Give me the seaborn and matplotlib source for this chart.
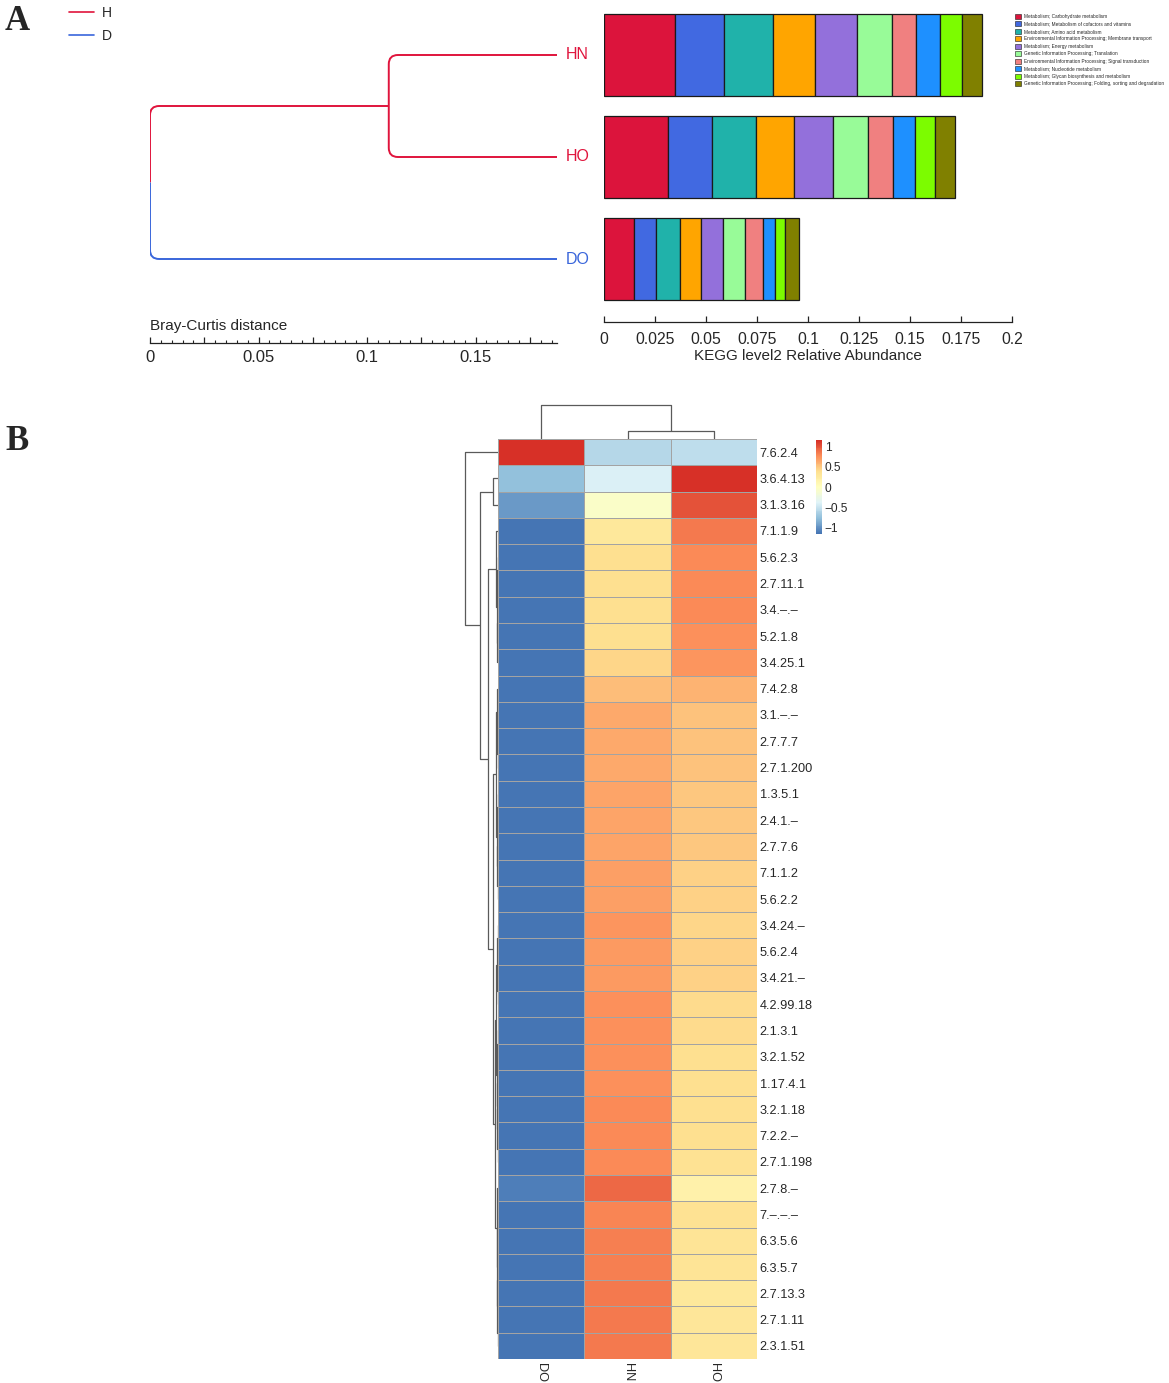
import numpy as np
import pandas as pd
import matplotlib
matplotlib.use("Agg")
import matplotlib.pyplot as plt
import seaborn as sns
from matplotlib.path import Path
from matplotlib.patches import PathPatch, Patch
from matplotlib.lines import Line2D
from matplotlib.colors import LinearSegmentedColormap
from matplotlib.ticker import MultipleLocator

# ---------------- panel A data ----------------
samples = ["HN", "HO", "DO"]
sample_group = ["H", "H", "D"]
group_names = ["H", "D"]
group_colors = {"H": "#E0143C", "D": "#3A66DB"}

# Bray-Curtis cluster heights (measured from the leaves)
hn_ho_height = 0.0775
root_height = 0.1875

pathways = [
    "Metabolism; Carbohydrate metabolism",
    "Metabolism; Metabolism of cofactors and vitamins",
    "Metabolism; Amino acid metabolism",
    "Environmental Information Processing; Membrane transport",
    "Metabolism; Energy metabolism",
    "Genetic Information Processing; Translation",
    "Environmental Information Processing; Signal transduction",
    "Metabolism; Nucleotide metabolism",
    "Metabolism; Glycan biosynthesis and metabolism",
    "Genetic Information Processing; Folding, sorting and degradation",
]
pathway_colors = ["#DC143C", "#4169E1", "#20B2AA", "#FFA500", "#9370DB",
                  "#98FB98", "#F08080", "#1E90FF", "#7CFC00", "#808000"]

abund_hn = [0.0348, 0.0242, 0.0237, 0.0209, 0.0204, 0.0172, 0.0117, 0.0118, 0.0108, 0.0096]
abund_ho = [0.0314, 0.0214, 0.0216, 0.0187, 0.0191, 0.0172, 0.0121, 0.0108, 0.0100, 0.0098]
abund_do = [0.0147, 0.0109, 0.0117, 0.0102, 0.0110, 0.0106, 0.0087, 0.0060, 0.0049, 0.0067]

kegg_ticks = [0, 0.025, 0.05, 0.075, 0.1, 0.125, 0.15, 0.175, 0.2]
kegg_tick_labels = ["0", "0.025", "0.05", "0.075", "0.1", "0.125", "0.15", "0.175", "0.2"]
bc_ticks = [0, 0.025, 0.05, 0.075, 0.1, 0.125, 0.15, 0.175]
bc_tick_labels = ["0", "", "0.05", "", "0.1", "", "0.15", ""]

# ---------------- panel B data ----------------
col_labels = ["DO", "HN", "HO"]
row_labels = ["7.6.2.4", "3.6.4.13", "3.1.3.16", "7.1.1.9", "5.6.2.3", "2.7.11.1",
              "3.4.–.–", "5.2.1.8", "3.4.25.1", "7.4.2.8", "3.1.–.–", "2.7.7.7",
              "2.7.1.200", "1.3.5.1", "2.4.1.–", "2.7.7.6", "7.1.1.2", "5.6.2.2",
              "3.4.24.–", "5.6.2.4", "3.4.21.–", "4.2.99.18", "2.1.3.1", "3.2.1.52",
              "1.17.4.1", "3.2.1.18", "7.2.2.–", "2.7.1.198", "2.7.8.–", "7.–.–.–",
              "6.3.5.6", "6.3.5.7", "2.7.13.3", "2.7.1.11", "2.3.1.51"]
z_do = [1.15, -0.75, -0.95, -1.15, -1.15, -1.15, -1.15, -1.15, -1.15, -1.15,
        -1.15, -1.15, -1.15, -1.15, -1.15, -1.15, -1.15, -1.15, -1.15, -1.15,
        -1.15, -1.15, -1.15, -1.15, -1.15, -1.15, -1.15, -1.14, -1.10, -1.15,
        -1.15, -1.15, -1.15, -1.15, -1.15]
z_hn = [-0.60, -0.40, -0.05, 0.30, 0.37, 0.38, 0.38, 0.39, 0.42, 0.55,
        0.63, 0.64, 0.64, 0.65, 0.66, 0.66, 0.69, 0.69, 0.73, 0.71,
        0.71, 0.74, 0.75, 0.76, 0.76, 0.77, 0.78, 0.78, 0.92, 0.80,
        0.81, 0.81, 0.85, 0.84, 0.84]
z_ho = [-0.55, 1.15, 1.00, 0.85, 0.78, 0.77, 0.77, 0.76, 0.73, 0.60,
        0.52, 0.51, 0.51, 0.50, 0.49, 0.49, 0.46, 0.46, 0.42, 0.44,
        0.44, 0.41, 0.40, 0.39, 0.39, 0.38, 0.37, 0.36, 0.18, 0.35,
        0.34, 0.34, 0.30, 0.31, 0.31]

# cluster trees: (left, right, height), leaves are row / column indices
col_tree = (0, (1, 2, 0.25), 1.0)
row_tree = (0,
            ((1, 2, 0.14),
             ((3, ((4, 5, 0.01), ((6, 7, 0.01), 8, 0.02), 0.03), 0.07),
              (((9, (10, (11, 12, 0.01), 0.02), 0.03),
                ((13, 14, 0.01), (15, (16, 17, 0.01), 0.02), 0.03), 0.07),
               ((((18, 19, 0.01), (20, 21, 0.01), 0.02),
                 ((22, 23, 0.01), (24, (25, (26, 27, 0.01), 0.02), 0.03), 0.04), 0.05),
                (28, ((29, 30, 0.01), ((31, 32, 0.01), (33, 34, 0.01), 0.02), 0.03), 0.04),
                0.09), 0.15), 0.30), 0.55),
            1.0)

heat_colors = ["#4575B4", "#91BFDB", "#E0F3F8", "#FFFFBF", "#FEE090", "#FC8D59", "#D73027"]
zlim = 1.155

# ---------------- figure ----------------
sns.set_style("white")
plt.rcParams["font.family"] = ["Liberation Sans", "DejaVu Sans"]

W, H = 1169, 1383
fig = plt.figure(figsize=(W / 100, H / 100), dpi=100)


def box(x0, y0, x1, y1):
    return [x0 / W, 1 - y1 / H, (x1 - x0) / W, (y1 - y0) / H]


def branch(ax, xn, y0, xc, yc, color, rx=0.0042, ry=0.09):
    s = 1 if yc > y0 else -1
    verts = [(xn, y0), (xn, yc - s * ry), (xn, yc), (xn + rx, yc), (xc, yc)]
    codes = [Path.MOVETO, Path.LINETO, Path.CURVE3, Path.CURVE3, Path.LINETO]
    ax.add_patch(PathPatch(Path(verts, codes), fill=False, edgecolor=color,
                           lw=1.4, capstyle="butt"))


# --- A: dendrogram ---
ax_d = fig.add_axes(box(150, 4, 557, 310))
ax_d.set_xlim(0, root_height)
ax_d.set_ylim(2.5, -0.5)
x_leaf = root_height
x_node = root_height - hn_ho_height
x_root = 0.0
pos = {s: i for i, s in enumerate(samples)}
y_node = (pos["HN"] + pos["HO"]) / 2
y_root = (y_node + pos["DO"]) / 2
red, blue = group_colors["H"], group_colors["D"]
branch(ax_d, x_node, y_node, x_leaf, pos["HN"], red)
branch(ax_d, x_node, y_node, x_leaf, pos["HO"], red)
branch(ax_d, x_root, y_root, x_node, y_node, red)
branch(ax_d, x_root, y_root, x_leaf, pos["DO"], blue)
for s, g in zip(samples, sample_group):
    ax_d.annotate(s, (x_leaf, pos[s]), xytext=(6.5, 0), textcoords="offset points",
                  va="center", ha="left", fontsize=11.5, color=group_colors[g],
                  annotation_clip=False)
for sp in ["top", "right", "left"]:
    ax_d.spines[sp].set_visible(False)
ax_d.spines["bottom"].set_position(("outward", 24))
ax_d.spines["bottom"].set_linewidth(0.9)
ax_d.spines["bottom"].set_color("#222222")
ax_d.set_yticks([])
ax_d.set_xticks(bc_ticks)
ax_d.set_xticklabels(bc_tick_labels)
ax_d.xaxis.set_minor_locator(MultipleLocator(0.005))
ax_d.tick_params(axis="x", which="major", bottom=True, direction="in", length=4.2,
                 width=0.9, labelsize=12, pad=4.5, color="#222222")
ax_d.tick_params(axis="x", which="minor", bottom=True, direction="in", length=2.4,
                 width=0.8, color="#222222")
fig.text(150 / W, 1 - 326 / H, "Bray-Curtis distance", fontsize=11, va="center", ha="left")

# --- A: stacked bars ---
ax_b = fig.add_axes(box(604, 4, 1012, 310))
abund = pd.DataFrame([abund_hn, abund_ho, abund_do], index=samples, columns=pathways)
left = np.zeros(len(samples))
ypos = np.arange(len(samples))
for name, col in zip(pathways, pathway_colors):
    ax_b.barh(ypos, abund[name].values, left=left, height=0.8, color=col,
              edgecolor="#1a1a1a", linewidth=0.9)
    left += abund[name].values
ax_b.set_xlim(0, 0.2)
ax_b.set_ylim(2.5, -0.5)
for sp in ["top", "right", "left"]:
    ax_b.spines[sp].set_visible(False)
ax_b.spines["bottom"].set_position(("outward", 8.5))
ax_b.spines["bottom"].set_linewidth(0.9)
ax_b.spines["bottom"].set_color("#222222")
ax_b.set_yticks([])
ax_b.set_xticks(kegg_ticks)
ax_b.set_xticklabels(kegg_tick_labels)
ax_b.tick_params(axis="x", bottom=True, direction="in", length=4, width=0.9,
                 labelsize=11.3, pad=7, color="#222222")
ax_b.set_xlabel("KEGG level2 Relative Abundance", fontsize=11, labelpad=1.5)

fig.legend(handles=[Patch(facecolor=c, edgecolor="#1a1a1a", linewidth=0.4) for c in pathway_colors],
           labels=pathways, loc="upper left", bbox_to_anchor=(1015 / W, 1 - 14 / H),
           fontsize=3.45, frameon=False, handlelength=1.25, handleheight=1.2,
           handletextpad=0.7, labelspacing=0.5, borderpad=0, borderaxespad=0)

fig.legend(handles=[Line2D([], [], color=group_colors[g], lw=1.2) for g in group_names],
           labels=group_names, loc="upper left", bbox_to_anchor=(69 / W, 1 - 6 / H),
           fontsize=10, frameon=False, handlelength=1.8, handletextpad=0.6,
           labelspacing=0.65, borderpad=0, borderaxespad=0)

fig.text(5 / W, 1 - 5 / H, "A", fontsize=25, fontweight="bold", family="Liberation Serif", va="top")
fig.text(5 / W, 1 - 425 / H, "B", fontsize=25, fontweight="bold", family="Liberation Serif", va="top")

# --- B: heatmap ---
cmap = LinearSegmentedColormap.from_list("rev_rdylbu", heat_colors, N=100)
heat = pd.DataFrame({"DO": z_do, "HN": z_hn, "HO": z_ho}, index=row_labels)[col_labels]

ax_h = fig.add_axes(box(498, 439, 757, 1359))
ax_cb = fig.add_axes(box(816, 440, 822, 534))
sns.heatmap(heat, ax=ax_h, cmap=cmap, vmin=-zlim, vmax=zlim, linewidths=0.7,
            linecolor="#a3a3a3", cbar_ax=ax_cb,
            cbar_kws={"ticks": [-1, -0.5, 0, 0.5, 1]})
ax_h.yaxis.tick_right()
ax_h.set_yticks(np.arange(len(row_labels)) + 0.5)
ax_h.set_yticklabels(row_labels, rotation=0, fontsize=9.2)
ax_h.set_xticks(np.arange(len(col_labels)) + 0.5)
ax_h.set_xticklabels(col_labels, rotation=270, fontsize=9.2, va="top", ha="center")
ax_h.tick_params(axis="both", length=0)
ax_h.tick_params(axis="y", pad=2)
ax_h.tick_params(axis="x", pad=3)
ax_h.set_xlabel("")
ax_h.set_ylabel("")

cbar = ax_h.collections[0].colorbar
cbar.outline.set_visible(False)
cbar.set_ticklabels(["\u22121", "\u22120.5", "0", "0.5", "1"])
cbar.ax.tick_params(labelsize=8.6, length=0, pad=2)


def draw_tree(ax, node, orient):
    if isinstance(node, int):
        return node + 0.5, 0.0
    a, b, h = node
    p1, h1 = draw_tree(ax, a, orient)
    p2, h2 = draw_tree(ax, b, orient)
    ps, hs = [p1, p1, p2, p2], [h1, h, h, h2]
    if orient == "top":
        ax.plot(ps, hs, color="#5a5a5a", lw=0.9, solid_capstyle="butt")
    else:
        ax.plot(hs, ps, color="#5a5a5a", lw=0.9, solid_capstyle="butt")
    return (p1 + p2) / 2, h


ax_ct = fig.add_axes(box(498, 404, 757, 439))
draw_tree(ax_ct, col_tree, "top")
ax_ct.set_xlim(0, len(col_labels))
ax_ct.set_ylim(0, 1.03)
ax_ct.axis("off")

ax_rt = fig.add_axes(box(462, 439, 498, 1359))
draw_tree(ax_rt, row_tree, "left")
ax_rt.set_ylim(len(row_labels), 0)
ax_rt.set_xlim(1.09, 0)
ax_rt.axis("off")

fig.savefig("out.png", dpi=100)
